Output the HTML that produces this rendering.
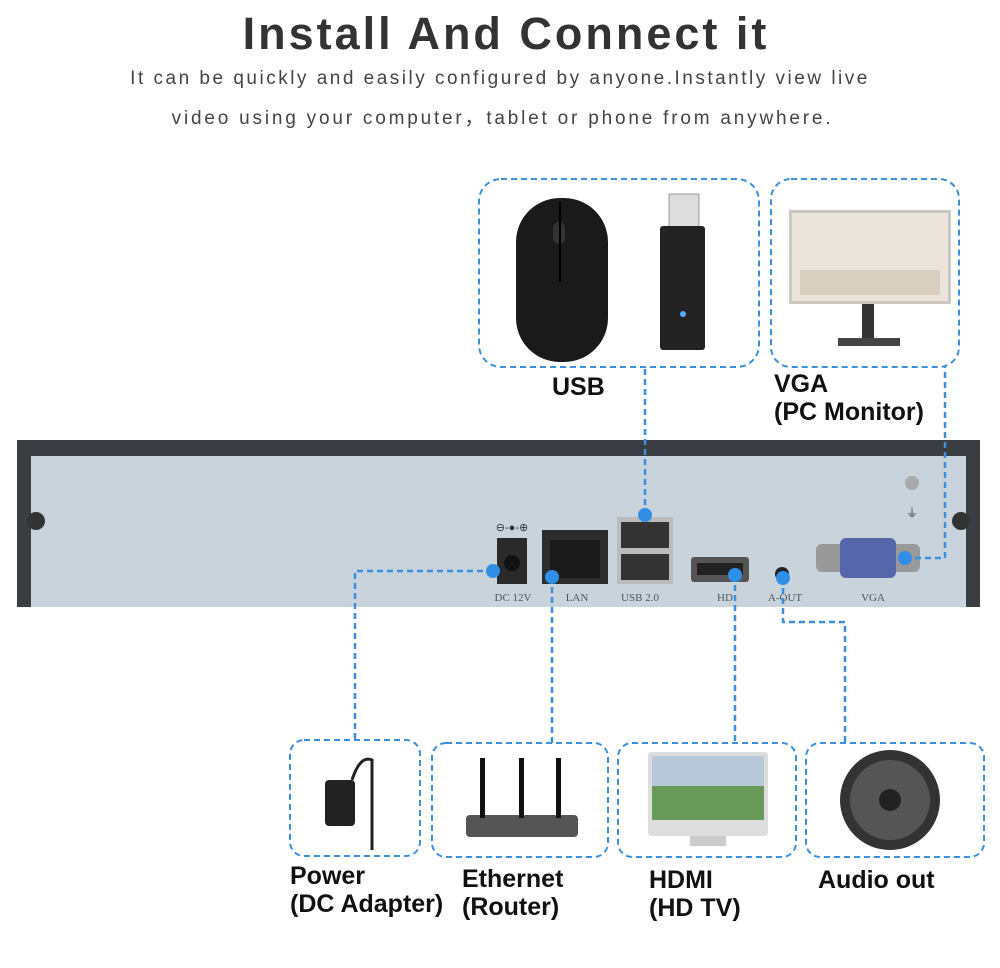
<!DOCTYPE html>
<html><head><meta charset="utf-8"><style>
body{margin:0;background:#fff;width:1000px;height:968px;overflow:hidden;position:relative;font-family:"Liberation Sans",sans-serif}
.t{position:absolute;white-space:nowrap}
.lab{position:absolute;font-weight:bold;font-size:25px;color:#111;line-height:28px;white-space:nowrap}
</style></head><body>
<div class="t" style="left:0;width:1012px;top:8px;text-align:center;font-size:45px;font-weight:bold;color:#333;letter-spacing:3px">Install And Connect it</div>
<div class="t" style="left:0;width:1000px;top:68px;text-align:center;font-size:19px;color:#444;letter-spacing:2.5px">It can be quickly and easily configured by anyone.Instantly view live</div>
<div class="t" style="left:0;width:1005px;top:103px;text-align:center;font-size:19px;color:#444;letter-spacing:2.8px">video using your computer，tablet or phone from anywhere.</div>

<svg width="1000" height="968" style="position:absolute;left:0;top:0">
<g fill="none" stroke="#3c8fe0" stroke-width="2" stroke-dasharray="6,4">
<rect x="479" y="179" width="280" height="188" rx="22"/>
<rect x="771" y="179" width="188" height="188" rx="20"/>
<rect x="290" y="740" width="130" height="116" rx="14"/>
<rect x="432" y="743" width="176" height="114" rx="14"/>
<rect x="618" y="743" width="178" height="114" rx="14"/>
<rect x="806" y="743" width="178" height="114" rx="14"/>
</g>
<rect x="516" y="198" width="92" height="164" rx="44" fill="#1a1a1a"/>
<rect x="553" y="222" width="12" height="22" rx="6" fill="#333"/>
<line x1="560" y1="202" x2="560" y2="282" stroke="#000" stroke-width="2"/>
<rect x="669" y="194" width="30" height="34" fill="#ddd" stroke="#999"/>
<rect x="660" y="226" width="45" height="124" rx="3" fill="#222"/>
<circle cx="683" cy="314" r="3" fill="#5af"/>
<rect x="789" y="210" width="162" height="94" fill="#ccc8c0"/>
<rect x="792" y="213" width="156" height="88" fill="#e9e4dc"/>
<rect x="800" y="270" width="140" height="25" fill="#d8cfc0"/>
<rect x="862" y="304" width="12" height="36" fill="#333"/>
<rect x="838" y="338" width="62" height="8" fill="#444"/>
<rect x="17" y="440" width="963" height="167" fill="#c8d3dc"/>
<rect x="17" y="440" width="963" height="16" fill="#3a3d42"/>
<rect x="17" y="440" width="14" height="167" fill="#3a3d42"/>
<rect x="966" y="440" width="14" height="167" fill="#3a3d42"/>
<circle cx="36" cy="521" r="9" fill="#333"/>
<circle cx="961" cy="521" r="9" fill="#333"/>
<circle cx="912" cy="483" r="7" fill="#aaa"/>
<text x="912" y="517" font-size="12" fill="#444" text-anchor="middle">⏚</text>
<text x="512" y="531" font-size="11" fill="#333" text-anchor="middle">⊖-●-⊕</text>
<rect x="497" y="538" width="30" height="46" fill="#2a2a2a"/>
<circle cx="512" cy="563" r="8" fill="#111"/>
<rect x="542" y="530" width="66" height="54" fill="#2c2c2c"/>
<rect x="550" y="540" width="50" height="38" fill="#1a1a1a"/>
<rect x="617" y="517" width="56" height="67" fill="#bbb"/>
<rect x="621" y="522" width="48" height="26" fill="#333"/>
<rect x="621" y="554" width="48" height="26" fill="#333"/>
<rect x="691" y="557" width="58" height="25" rx="3" fill="#555"/>
<rect x="697" y="563" width="46" height="12" fill="#222"/>
<circle cx="782" cy="574" r="7" fill="#222"/>
<rect x="816" y="544" width="104" height="28" rx="6" fill="#999"/>
<rect x="840" y="538" width="56" height="40" rx="6" fill="#5566aa"/>
<g font-family="Liberation Serif" font-size="11" fill="#555" text-anchor="middle">
<text x="513" y="601">DC 12V</text><text x="577" y="601">LAN</text><text x="640" y="601">USB 2.0</text>
<text x="725" y="601">HD</text><text x="785" y="601">A-OUT</text><text x="873" y="601">VGA</text></g>
<g fill="none" stroke="#3c8fe0" stroke-width="2.5" stroke-dasharray="6,4">
<polyline points="493,571 355,571 355,740"/>
<polyline points="552,577 552,743"/>
<polyline points="645,515 645,367"/>
<polyline points="735,575 735,743"/>
<polyline points="783,578 783,622 845,622 845,743"/>
<polyline points="905,558 945,558 945,367"/>
</g>
<g fill="#2f8fe8">
<circle cx="493" cy="571" r="7"/><circle cx="552" cy="577" r="7"/><circle cx="645" cy="515" r="7"/>
<circle cx="735" cy="575" r="7"/><circle cx="783" cy="578" r="7"/><circle cx="905" cy="558" r="7"/></g>
<rect x="325" y="780" width="30" height="46" rx="4" fill="#222"/>
<path d="M352 780 Q360 755 372 760 L372 850" stroke="#222" stroke-width="3" fill="none"/>
<rect x="466" y="815" width="112" height="22" rx="4" fill="#555"/>
<rect x="480" y="758" width="5" height="60" fill="#111"/><rect x="519" y="758" width="5" height="60" fill="#111"/><rect x="556" y="758" width="5" height="60" fill="#111"/>
<rect x="648" y="752" width="120" height="84" rx="3" fill="#ddd"/>
<rect x="652" y="756" width="112" height="64" fill="#6a9a5a"/>
<rect x="652" y="756" width="112" height="30" fill="#b8c8d8"/>
<rect x="690" y="836" width="36" height="10" fill="#ccc"/>
<circle cx="890" cy="800" r="50" fill="#333"/>
<circle cx="890" cy="800" r="40" fill="#555"/>
<circle cx="890" cy="800" r="11" fill="#222"/>
</svg>
<div class="lab" style="left:552px;top:373px">USB</div>
<div class="lab" style="left:774px;top:370px">VGA<br>(PC Monitor)</div>
<div class="lab" style="left:290px;top:862px">Power<br>(DC Adapter)</div>
<div class="lab" style="left:462px;top:865px">Ethernet<br>(Router)</div>
<div class="lab" style="left:649px;top:866px">HDMI<br>(HD TV)</div>
<div class="lab" style="left:818px;top:866px">Audio out</div>
</body></html>
